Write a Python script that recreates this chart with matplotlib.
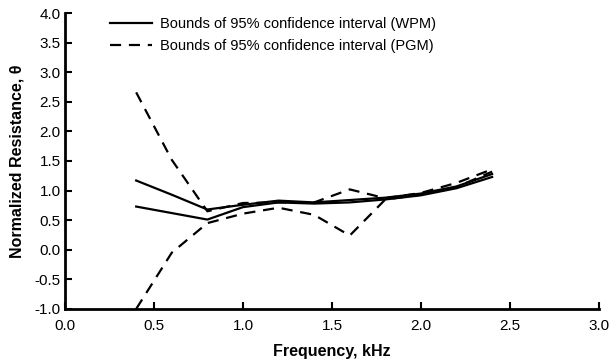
import matplotlib
matplotlib.use('Agg')
import matplotlib.pyplot as plt

plt.rcParams['font.family'] = ['Liberation Sans', 'DejaVu Sans']

freq = [0.4, 0.6, 0.8, 1.0, 1.2, 1.4, 1.6, 1.8, 2.0, 2.2, 2.4]
wpm_upper = [1.17, 0.93, 0.68, 0.76, 0.83, 0.80, 0.84, 0.88, 0.95, 1.07, 1.28]
wpm_lower = [0.73, 0.62, 0.51, 0.72, 0.80, 0.78, 0.80, 0.85, 0.92, 1.04, 1.23]
pgm_upper = [2.66, 1.52, 0.65, 0.79, 0.80, 0.80, 1.02, 0.87, 0.96, 1.13, 1.36]
pgm_lower = [-1.0, -0.05, 0.45, 0.61, 0.71, 0.59, 0.24, 0.85, 0.93, 1.06, 1.32]

fig = plt.figure(figsize=(6.13, 3.63), dpi=100)
ax = fig.add_axes([0.106, 0.149, 0.871, 0.815])

ax.plot(freq, wpm_upper, color='black', lw=1.6, label='Bounds of 95% confidence interval (WPM)')
ax.plot(freq, wpm_lower, color='black', lw=1.6)
ax.plot(freq, pgm_upper, color='black', lw=1.6, ls=(0, (5, 3.5)), label='Bounds of 95% confidence interval (PGM)')
ax.plot(freq, pgm_lower, color='black', lw=1.6, ls=(0, (5, 3.5)))

ax.set_xlim(0, 3.0)
ax.set_ylim(-1.0, 4.0)
ax.set_xticks([0.0, 0.5, 1.0, 1.5, 2.0, 2.5, 3.0])
ax.set_yticks([-1.0, -0.5, 0.0, 0.5, 1.0, 1.5, 2.0, 2.5, 3.0, 3.5, 4.0])
ax.xaxis.set_major_formatter(matplotlib.ticker.FormatStrFormatter('%.1f'))
ax.yaxis.set_major_formatter(matplotlib.ticker.FormatStrFormatter('%.1f'))
ax.tick_params(direction='in', length=5, width=1.5, labelsize=11)
ax.tick_params(axis='x', pad=7)
ax.tick_params(axis='y', pad=3)

for s in ['top', 'right']:
    ax.spines[s].set_visible(False)
for s in ['left', 'bottom']:
    ax.spines[s].set_linewidth(2)

ax.set_xlabel('Frequency, kHz', fontweight='bold', fontsize=11.5, labelpad=8)
ax.set_ylabel('Normalized Resistance, \u03b8', fontweight='bold', fontsize=11.5, labelpad=7)

ax.legend(loc='upper left', bbox_to_anchor=(0.06, 1.03), frameon=False, fontsize=10.5,
          handlelength=2.9, handletextpad=0.5, labelspacing=0.55)

fig.savefig('out.png', dpi=100)
